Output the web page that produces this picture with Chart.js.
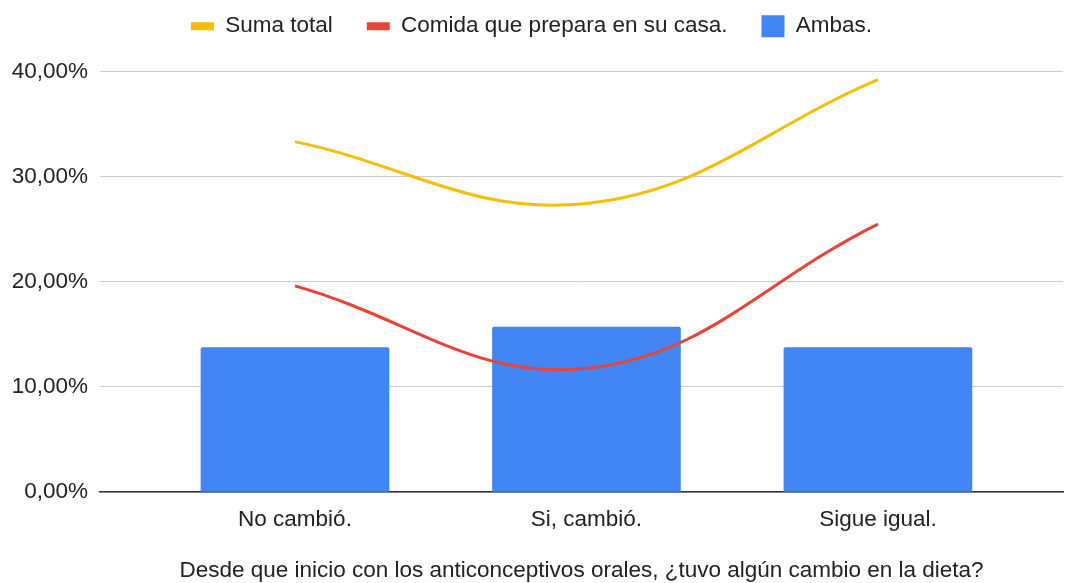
<!DOCTYPE html>
<html lang="es">
<head>
    <meta charset="UTF-8">
    <title>Cambio en la dieta</title>
    <script src="https://cdn.jsdelivr.net/npm/chart.js"></script>
    <style>
        body {
            margin: 0;
            padding: 0;
            background: #fff;
        }
        .chart-box {
            width: 1065px;
            height: 583px;
        }
    </style>
</head>
<body>
    <div class="chart-box">
        <canvas id="dietaChart"></canvas>
    </div>

    <script>
        // Datos (porcentajes sobre 51 respuestas)
        const categorias = ['No cambió.', 'Si, cambió.', 'Sigue igual.'];
        const sumaTotal = [33.33, 27.45, 39.22];
        const comidaCasa = [19.61, 11.76, 25.49];
        const ambas = [13.73, 15.69, 13.73];
        const yTicks = [0, 10, 20, 30, 40];

        const fuente = "'Liberation Sans', Arial, sans-serif";
        const tam = 22.5;
        const toPoints = arr => arr.map((v, i) => ({ x: i, y: v }));

        // Espacio extra debajo de la leyenda
        const margenLeyenda = {
            id: 'margenLeyenda',
            beforeInit(chart) {
                const fitOriginal = chart.legend.fit;
                chart.legend.fit = function () {
                    fitOriginal.bind(chart.legend)();
                    this.height += 24;
                };
            }
        };

        const ctx = document.getElementById('dietaChart').getContext('2d');
        new Chart(ctx, {
            data: {
                datasets: [
                    {
                        type: 'line',
                        label: 'Suma total',
                        data: toPoints(sumaTotal),
                        borderColor: '#fbbc04',
                        backgroundColor: '#fbbc04',
                        borderWidth: 3,
                        tension: 0.4,
                        pointRadius: 0,
                        pointStyle: 'line',
                        order: 0
                    },
                    {
                        type: 'line',
                        label: 'Comida que prepara en su casa.',
                        data: toPoints(comidaCasa),
                        borderColor: '#ea4335',
                        backgroundColor: '#ea4335',
                        borderWidth: 3,
                        tension: 0.4,
                        pointRadius: 0,
                        pointStyle: 'line',
                        order: 1
                    },
                    {
                        type: 'bar',
                        label: 'Ambas.',
                        data: toPoints(ambas),
                        backgroundColor: '#4285f4',
                        barThickness: 188,
                        borderRadius: 2,
                        pointStyle: 'rect',
                        order: 2
                    }
                ]
            },
            options: {
                responsive: true,
                maintainAspectRatio: false,
                animation: false,
                layout: { padding: { top: -19, right: 2, left: 0, bottom: 0 } },
                plugins: {
                    legend: {
                        position: 'top',
                        labels: {
                            font: { family: fuente, size: tam },
                            color: '#222',
                            usePointStyle: true,
                            pointStyleWidth: 23,
                            boxHeight: 22,
                            padding: 34,
                            generateLabels(chart) {
                                const items = Chart.defaults.plugins.legend.labels.generateLabels(chart);
                                items.forEach(it => {
                                    const ds = chart.data.datasets[it.datasetIndex];
                                    if (ds.type === 'line') {
                                        it.lineWidth = 8;
                                        it.strokeStyle = ds.borderColor;
                                    } else {
                                        it.lineWidth = 0;
                                    }
                                });
                                return items;
                            }
                        }
                    },
                    tooltip: { enabled: false }
                },
                scales: {
                    x: {
                        type: 'linear',
                        offset: false,
                        min: -0.669,
                        max: 2.635,
                        afterBuildTicks(scale) {
                            scale.ticks = categorias.map((_, i) => ({ value: i }));
                        },
                        afterFit(scale) {
                            scale.height = 91;
                        },
                        ticks: {
                            callback: v => categorias[v] ?? '',
                            font: { family: fuente, size: tam },
                            color: '#222',
                            padding: 6,
                            maxRotation: 0,
                            autoSkip: false
                        },
                        grid: { display: false },
                        border: { display: true, color: '#333', width: 1.5 },
                        title: {
                            display: true,
                            text: 'Desde que inicio con los anticonceptivos orales, ¿tuvo algún cambio en la dieta?',
                            font: { family: fuente, size: tam },
                            color: '#222',
                            padding: { top: 28, bottom: -1 }
                        }
                    },
                    y: {
                        min: 0,
                        max: 40,
                        afterBuildTicks(scale) {
                            scale.ticks = yTicks.map(v => ({ value: v }));
                        },
                        afterFit(scale) {
                            scale.width = 100;
                        },
                        ticks: {
                            callback: v => v.toFixed(2).replace('.', ',') + '%',
                            font: { family: fuente, size: tam },
                            color: '#222',
                            padding: 12
                        },
                        grid: { color: '#cccccc', lineWidth: 1, drawTicks: false },
                        border: { display: false }
                    }
                }
            },
            plugins: [margenLeyenda]
        });
    </script>
</body>
</html>
